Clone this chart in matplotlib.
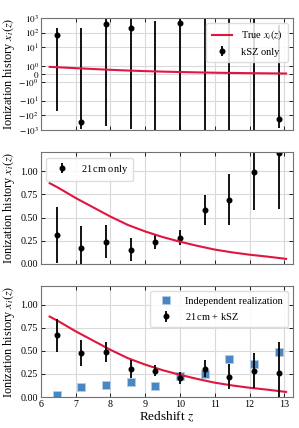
import matplotlib
matplotlib.use('Agg')
import matplotlib.pyplot as plt
import numpy as np

plt.rcParams['font.family'] = 'Liberation Serif'
plt.rcParams['mathtext.fontset'] = 'stix'
plt.rcParams['xtick.direction'] = 'in'
plt.rcParams['ytick.direction'] = 'in'

# redshift bins
z_bins = [6.45, 7.16, 7.87, 8.58, 9.29, 10.0, 10.71, 11.42, 12.13, 12.84]

# true ionization history
z_true = [6.25, 6.5, 7.0, 7.5, 8.0, 8.5, 9.0, 9.5, 10.0, 10.5, 11.0, 11.5, 12.0, 12.5, 13.05]
x_true = [0.87, 0.82, 0.71, 0.61, 0.51, 0.42, 0.35, 0.29, 0.24, 0.195, 0.155, 0.125, 0.10, 0.08, 0.055]

# kSZ only
ksz_val = [75, -300, 380, 220, -1500, 480, -1800, 2000, -2500, -180]
ksz_err = [125, 500, 950, 1070, 2100, 2000, 3500, 4000, 4000, 500]

# 21 cm only
cm_val = [0.314, 0.17, 0.242, 0.152, 0.235, 0.285, 0.578, 0.69, 0.993, 1.19]
cm_err = [0.30, 0.24, 0.18, 0.125, 0.075, 0.08, 0.16, 0.275, 0.41, 0.60]

# 21 cm + kSZ
comb_val = [0.667, 0.478, 0.486, 0.304, 0.286, 0.203, 0.308, 0.217, 0.286, 0.26]
comb_err = [0.175, 0.14, 0.11, 0.10, 0.06, 0.065, 0.095, 0.135, 0.185, 0.34]

# independent realization
indep_val = [0.025, 0.105, 0.13, 0.16, 0.123, 0.225, 0.25, 0.406, 0.362, 0.486]

sym_ticks = [-1000, -100, -10, -1, 0, 1, 10, 100, 1000]
sym_labels = [r'$-10^{3}$', r'$-10^{2}$', r'$-10^{1}$', r'$-10^{0}$', r'$0$',
              r'$10^{0}$', r'$10^{1}$', r'$10^{2}$', r'$10^{3}$']

red = '#e0163f'
ylab = r'Ionization history $x_i(z)$'

fig = plt.figure(figsize=(2.99, 4.28), dpi=100)
ax1 = fig.add_axes([0.137, 0.6963, 0.843, 0.2617])
ax2 = fig.add_axes([0.137, 0.3832, 0.843, 0.2605], sharex=ax1)
ax3 = fig.add_axes([0.137, 0.0724, 0.843, 0.2593], sharex=ax1)

eb_kw = dict(fmt='o', color='k', ms=3.3, elinewidth=1.3, capsize=0)
leg_kw = dict(fontsize=7.5, framealpha=0.85, edgecolor='0.85', fancybox=True,
              handlelength=2.0, borderpad=0.5)

# panel 1: kSZ only
ax1.plot(z_true, x_true, color=red, lw=1.5, label=r'True $x_i(z)$', zorder=3)
ax1.errorbar(z_bins, ksz_val, yerr=ksz_err, label='kSZ only', zorder=2, **eb_kw)
ax1.set_yscale('symlog', linthresh=2, linscale=1)
ax1.set_ylim(-1000, 1000)
ax1.set_yticks(sym_ticks)
ax1.set_yticklabels(sym_labels)
ax1.yaxis.set_minor_locator(matplotlib.ticker.NullLocator())
ax1.legend(loc='upper right', **leg_kw)

# panel 2: 21 cm only
ax2.plot(z_true, x_true, color=red, lw=1.5, zorder=3)
ax2.errorbar(z_bins, cm_val, yerr=cm_err, label=r'21$\,$cm only', zorder=2, **eb_kw)
ax2.set_ylim(0, 1.2)
ax2.legend(loc='upper left', **leg_kw)

# panel 3: 21 cm + kSZ
ax3.plot(z_true, x_true, color=red, lw=1.5, zorder=3)
ax3.plot(z_bins, indep_val, 's', color='#4a86bf', ms=5.8, mec='#b3cce3', mew=0.6,
         label='Independent realization', zorder=1)
ax3.errorbar(z_bins, comb_val, yerr=comb_err, label=r'21$\,$cm + kSZ', zorder=4, **eb_kw)
ax3.set_ylim(0, 1.2)
ax3.set_xlim(6, 13.25)
ax3.set_xlabel(r'Redshift $z$', fontsize=9.5, labelpad=1)
ax3.legend(loc='upper right', **leg_kw)

for ax in (ax1, ax2, ax3):
    ax.grid(True, color='0.85', lw=0.8)
    ax.set_axisbelow(True)
    ax.set_ylabel(ylab, fontsize=8.8)
    ax.yaxis.set_label_coords(-0.095, 0.5)
    ax.tick_params(labelsize=7.2, length=3, width=0.6, top=True, right=True, pad=2)
    for s in ax.spines.values():
        s.set_color('0.45')
        s.set_linewidth(0.8)
    ax.set_xticks([6, 7, 8, 9, 10, 11, 12, 13])

ax1.tick_params(axis='y', labelsize=6.6, pad=1.5)

for ax in (ax2, ax3):
    ax.set_yticks([0, 0.25, 0.5, 0.75, 1.0])
    ax.set_yticklabels(['0.00', '0.25', '0.50', '0.75', '1.00'])

ax1.tick_params(labelbottom=False)
ax2.tick_params(labelbottom=False)

plt.savefig('out.png', dpi=100)
